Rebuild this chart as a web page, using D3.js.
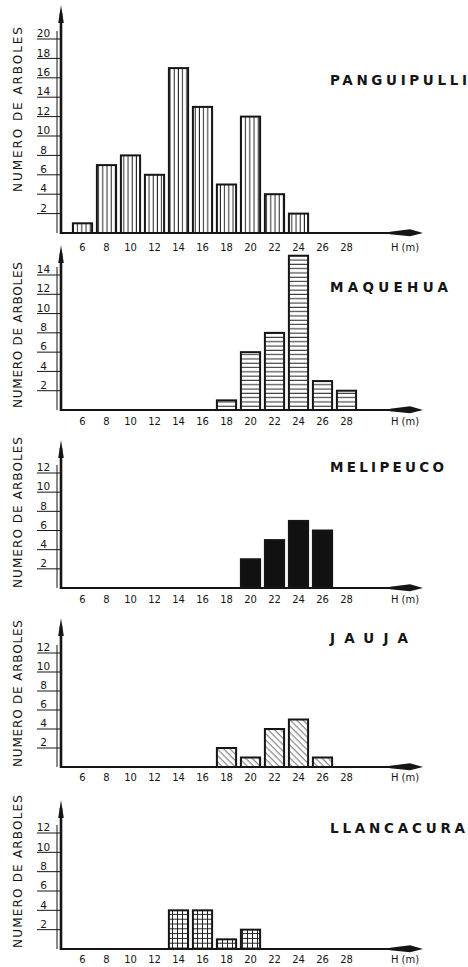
<!DOCTYPE html>
<html>
<head>
<meta charset="utf-8">
<script src="https://cdn.jsdelivr.net/npm/d3@7"></script>
<style>
body { margin: 0; background: #fff; }
svg text { font-family: "DejaVu Sans", sans-serif; fill: #151515; }
</style>
</head>
<body>
<svg id="chart" width="468" height="967"></svg>
<script>
// tree height classes (m) and number of trees per site
var heights = [6, 8, 10, 12, 14, 16, 18, 20, 22, 24, 26, 28];
var sites = ["PANGUIPULLI", "MAQUEHUA", "MELIPEUCO", "JAUJA", "LLANCACURA"];
var panguipulli = [1, 7, 8, 6, 17, 13, 5, 12, 4, 2, 0, 0];
var maquehua    = [0, 0, 0, 0, 0, 0, 1, 6, 8, 16, 3, 2];
var melipeuco   = [0, 0, 0, 0, 0, 0, 0, 3, 5, 7, 6, 0];
var jauja       = [0, 0, 0, 0, 0, 0, 2, 1, 4, 5, 1, 0];
var llancacura  = [0, 0, 0, 0, 4, 4, 1, 2, 0, 0, 0, 0];
var counts = [panguipulli, maquehua, melipeuco, jauja, llancacura];
var yTickMax = [20, 14, 12, 12, 12];
var xUnit = "H (m)";
var yTitle = "NUMERO DE ARBOLES";

// panel geometry (pixels) - stacked top to bottom
var panels = [
    {base: 233, top: 5,   yMaxPx: 39,  lab: 14, titleY: 80,  titleW: 137, yl0: 27,  yl1: 192, fill: "url(#vert)"},
    {base: 410, top: 245, yMaxPx: 275, lab: 11, titleY: 287, titleW: 118, yl0: 262, yl1: 408, fill: "url(#horiz)"},
    {base: 588, top: 440, yMaxPx: 473, lab: 11, titleY: 467, titleW: 114, yl0: 437, yl1: 588, fill: "#111"},
    {base: 767, top: 618, yMaxPx: 653, lab: 10, titleY: 638, titleW: 78,  yl0: 620, yl1: 767, fill: "url(#diag)"},
    {base: 949, top: 800, yMaxPx: 833, lab: 10, titleY: 828, titleW: 135, yl0: 795, yl1: 948, fill: "url(#grid)"}
];

var axisX = 61;     // thick y axis
var innerX = 57;    // thin rule left of it
var ink = "#151515";

var svg = d3.select("#chart");
var defs = svg.append("defs");

// hatch patterns
var p = defs.append("pattern").attr("id", "vert").attr("patternUnits", "userSpaceOnUse")
    .attr("width", 4.2).attr("height", 10);
p.append("line").attr("x1", 2).attr("x2", 2).attr("y1", 0).attr("y2", 10)
    .attr("stroke", "#222").attr("stroke-width", 1);

p = defs.append("pattern").attr("id", "horiz").attr("patternUnits", "userSpaceOnUse")
    .attr("width", 10).attr("height", 4.3);
p.append("line").attr("x1", 0).attr("x2", 10).attr("y1", 2).attr("y2", 2)
    .attr("stroke", "#222").attr("stroke-width", 1);

p = defs.append("pattern").attr("id", "diag").attr("patternUnits", "userSpaceOnUse")
    .attr("width", 4.5).attr("height", 10).attr("patternTransform", "rotate(-45)");
p.append("line").attr("x1", 2).attr("x2", 2).attr("y1", 0).attr("y2", 10)
    .attr("stroke", "#555").attr("stroke-width", 0.9);

p = defs.append("pattern").attr("id", "grid").attr("patternUnits", "userSpaceOnUse")
    .attr("width", 5).attr("height", 4.8);
p.append("line").attr("x1", 2.5).attr("x2", 2.5).attr("y1", 0).attr("y2", 4.8)
    .attr("stroke", "#222").attr("stroke-width", 1);
p.append("line").attr("x1", 0).attr("x2", 5).attr("y1", 2.4).attr("y2", 2.4)
    .attr("stroke", "#222").attr("stroke-width", 1);

var x = d3.scaleBand()
    .domain(heights)
    .range([70.5, 358.5])
    .paddingInner(0.2)
    .paddingOuter(0.1);

panels.forEach(function(pn, i) {
    var g = svg.append("g");
    var max = yTickMax[i];
    var y = d3.scaleLinear().domain([0, max]).range([pn.base, pn.yMaxPx]);
    var ticks = d3.range(2, max + 1, 2);
    var rows = heights.map((h, j) => ({h: h, n: counts[i][j]})).filter(d => d.n > 0);

    // bars
    g.selectAll("rect.bg").data(rows).enter().append("rect")
        .attr("class", "bg")
        .attr("x", d => x(d.h))
        .attr("width", x.bandwidth())
        .attr("y", d => y(d.n))
        .attr("height", d => pn.base - y(d.n))
        .attr("fill", "#fff");
    g.selectAll("rect.bar").data(rows).enter().append("rect")
        .attr("class", "bar")
        .attr("x", d => x(d.h))
        .attr("width", x.bandwidth())
        .attr("y", d => y(d.n))
        .attr("height", d => pn.base - y(d.n))
        .attr("fill", pn.fill)
        .attr("stroke", ink)
        .attr("stroke-width", 2);

    // y ticks: short rules with the number sitting on them
    g.selectAll("line.tk").data(ticks).enter().append("line")
        .attr("x1", 37).attr("x2", axisX)
        .attr("y1", d => y(d)).attr("y2", d => y(d))
        .attr("stroke", ink).attr("stroke-width", 1);
    g.selectAll("text.tk").data(ticks).enter().append("text")
        .attr("x", 43.5).attr("y", d => y(d) - 1.8)
        .attr("text-anchor", "middle")
        .attr("font-size", 10.5)
        .text(d => d);

    g.append("line")
        .attr("x1", innerX).attr("x2", innerX)
        .attr("y1", pn.base).attr("y2", y(max) - 8)
        .attr("stroke", ink).attr("stroke-width", 1);

    // y axis with arrow
    g.append("line")
        .attr("x1", axisX).attr("x2", axisX)
        .attr("y1", pn.base + 1).attr("y2", pn.top + 8)
        .attr("stroke", ink).attr("stroke-width", 2.6);
    g.append("path")
        .attr("d", `M${axisX - 2.8},${pn.top + 18} L${axisX},${pn.top} L${axisX + 2.8},${pn.top + 18} Z`)
        .attr("fill", ink);

    // x axis with arrow
    g.append("line")
        .attr("x1", axisX).attr("x2", 400)
        .attr("y1", pn.base).attr("y2", pn.base)
        .attr("stroke", ink).attr("stroke-width", 2.2);
    g.append("path")
        .attr("d", `M390,${pn.base - 1.2} L410,${pn.base - 3.8} L423,${pn.base} L410,${pn.base + 3.2} L390,${pn.base + 1.2} Z`)
        .attr("fill", ink);

    // x tick labels
    g.selectAll("text.xt").data(heights).enter().append("text")
        .attr("x", d => x(d) + x.bandwidth() / 2)
        .attr("y", pn.base + pn.lab + 3.5)
        .attr("text-anchor", "middle")
        .attr("font-size", 10)
        .text(d => d);
    g.append("text")
        .attr("x", 405).attr("y", pn.base + pn.lab + 3.5)
        .attr("text-anchor", "middle")
        .attr("font-size", 10)
        .text(xUnit);

    // site name
    g.append("text")
        .attr("x", 330).attr("y", pn.titleY + 5)
        .attr("font-size", 13.5).attr("font-weight", "bold")
        .attr("textLength", pn.titleW).attr("lengthAdjust", "spacing")
        .text(sites[i]);

    // y title, rotated
    var cy = (pn.yl0 + pn.yl1) / 2;
    g.append("text")
        .attr("transform", `translate(22,${cy}) rotate(-90)`)
        .attr("text-anchor", "middle")
        .attr("font-size", 12)
        .attr("textLength", pn.yl1 - pn.yl0).attr("lengthAdjust", "spacing")
        .text(yTitle);
});
</script>
</body>
</html>
